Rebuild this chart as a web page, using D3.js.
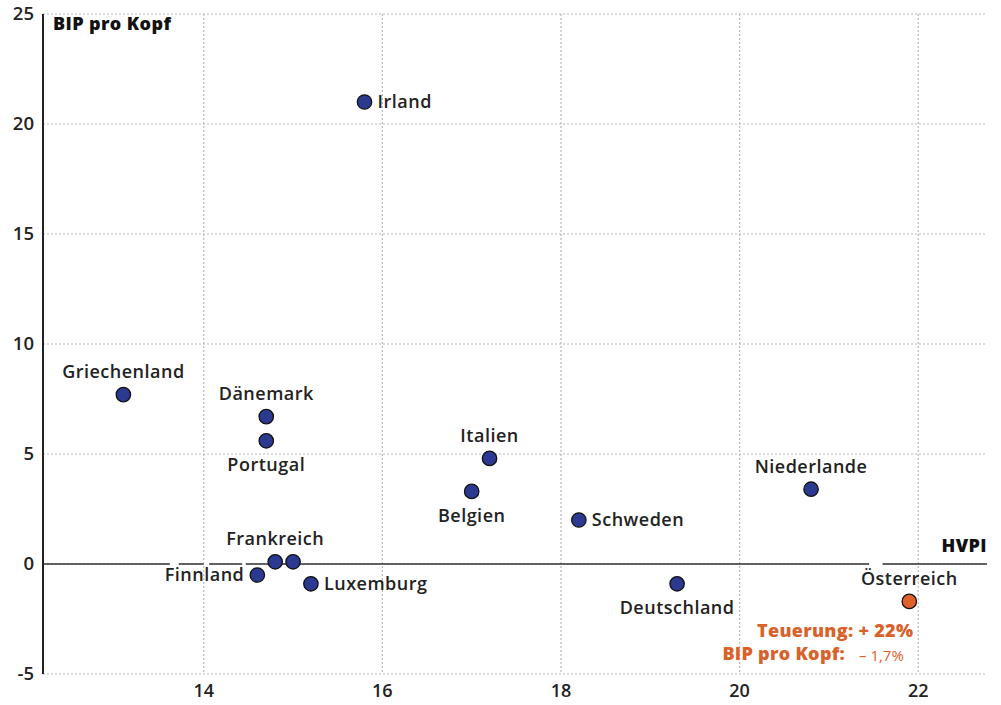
<!DOCTYPE html>
<html><head><meta charset="utf-8">
<script src="https://cdn.jsdelivr.net/npm/d3@7"></script>
<style>body{margin:0;background:#fff}svg{display:block}text{font-family:"Open Sans",Lato,sans-serif}</style>
</head><body>
<script>
const countries = ["Griechenland","Dänemark","Portugal","Irland","Italien","Belgien","Schweden","Niederlande","Deutschland","Österreich","Finnland","Frankreich","","Luxemburg"];
const hvpi =      [13.1, 14.7, 14.7, 15.8, 17.2, 17.0, 18.2, 20.8, 19.3, 21.9, 14.6, 14.8, 15.0, 15.2];
const bip =       [7.7, 6.7, 5.6, 21.0, 4.8, 3.3, 2.0, 3.4, -0.9, -1.7, -0.5, 0.1, 0.1, -0.9];
// label placement: a=above, b=below, r=right, l=left
const labelPos =  ["a","a","b","r","a","b","r","a","b","a","l","a","","r"];
const xTicks = [14,16,18,20,22];
const yTicks = [-5,0,5,10,15,20,25];

const W=1001,H=705;
const svg=d3.select("body").append("svg").attr("width",W).attr("height",H);
const x=d3.scaleLinear().domain([12.2,22.77]).range([43,987]);
const y=d3.scaleLinear().domain([-5,25]).range([674,14]);

// grid
svg.append("g").selectAll("line").data(yTicks).join("line")
  .attr("x1",x(12.2)).attr("x2",x(22.77)).attr("y1",d=>y(d)).attr("y2",d=>y(d))
  .attr("stroke","#b8b8b8").attr("stroke-width",1.2).attr("stroke-dasharray","2,2");
svg.append("g").selectAll("line").data(xTicks).join("line")
  .attr("x1",d=>x(d)).attr("x2",d=>x(d)).attr("y1",y(25)).attr("y2",y(-5))
  .attr("stroke","#b8b8b8").attr("stroke-width",1.2).attr("stroke-dasharray","2,2");

// zero line
svg.append("line").attr("x1",x(12.2)).attr("x2",x(22.77)).attr("y1",y(0)).attr("y2",y(0))
  .attr("stroke","#333").attr("stroke-width",1.5);
const gaps=[[13.62,13.72],[14.0,14.06],[14.43,14.47],[21.45,21.6]];
svg.append("g").selectAll("rect").data(gaps).join("rect")
  .attr("x",d=>x(d[0])).attr("width",d=>x(d[1])-x(d[0])).attr("y",y(0)-2).attr("height",4).attr("fill","#fff");

// left axis line
svg.append("line").attr("x1",x(12.2)).attr("x2",x(12.2)).attr("y1",y(25)).attr("y2",y(-5))
  .attr("stroke","#222").attr("stroke-width",2);

// tick labels
svg.append("g").selectAll("text").data(yTicks).join("text")
  .attr("x",34).attr("y",d=>y(d)).attr("dy","0.35em").attr("text-anchor","end")
  .attr("font-size",18.5).attr("font-weight",600).attr("fill","#222").text(d=>d);
svg.append("g").selectAll("text").data(xTicks).join("text")
  .attr("x",d=>x(d)).attr("y",691).attr("dy","0.35em").attr("text-anchor","middle")
  .attr("font-size",18).attr("font-weight",600).attr("fill","#222").text(d=>d);

// axis titles
svg.append("text").attr("x",53).attr("y",24).attr("dy","0.35em").attr("font-size",18).attr("font-weight",800).attr("letter-spacing",0.4).attr("fill","#111").text("BIP pro Kopf");
svg.append("text").attr("x",987).attr("y",546).attr("dy","0.35em").attr("text-anchor","end").attr("font-size",18).attr("font-weight",800).attr("letter-spacing",0.4).attr("fill","#111").text("HVPI");

// points
const idx=d3.range(countries.length);
svg.append("g").selectAll("circle").data(idx).join("circle")
  .attr("cx",i=>x(hvpi[i])).attr("cy",i=>y(bip[i])).attr("r",7.2)
  .attr("fill",i=>countries[i]==="Österreich"?"#e0602c":"#2b3990")
  .attr("stroke","#111").attr("stroke-width",1.3);

// labels
svg.append("g").selectAll("text").data(idx.filter(i=>countries[i])).join("text")
  .attr("font-size",18).attr("font-weight",600).attr("fill","#222")
  .attr("letter-spacing",0.5)
  .attr("dy","0.35em")
  .attr("x",i=>{const p=labelPos[i],cx=x(hvpi[i]);return p==="r"?cx+13:p==="l"?cx-13:cx;})
  .attr("y",i=>{const p=labelPos[i],cy=y(bip[i]);return p==="a"?cy-23:p==="b"?cy+24:cy;})
  .attr("text-anchor",i=>{const p=labelPos[i];return p==="r"?"start":p==="l"?"end":"middle";})
  .text(i=>countries[i]);

// annotation
const oi=countries.indexOf("Österreich");
const ox=x(hvpi[oi]);
svg.append("text").attr("x",ox+4).attr("y",631).attr("dy","0.35em").attr("text-anchor","end")
  .attr("font-size",18).attr("font-weight",800).attr("letter-spacing",0.3).attr("fill","#d9622b").text("Teuerung: + 22%");
svg.append("text").attr("x",845).attr("y",654).attr("dy","0.35em").attr("text-anchor","end")
  .attr("font-size",18).attr("font-weight",800).attr("letter-spacing",0.3).attr("fill","#d9622b").text("BIP pro Kopf:");
svg.append("text").attr("x",859).attr("y",656).attr("dy","0.35em").attr("text-anchor","start")
  .attr("font-size",15).attr("font-weight",400).attr("fill","#e0602c").text("– 1,7%");
</script>
</body></html>
